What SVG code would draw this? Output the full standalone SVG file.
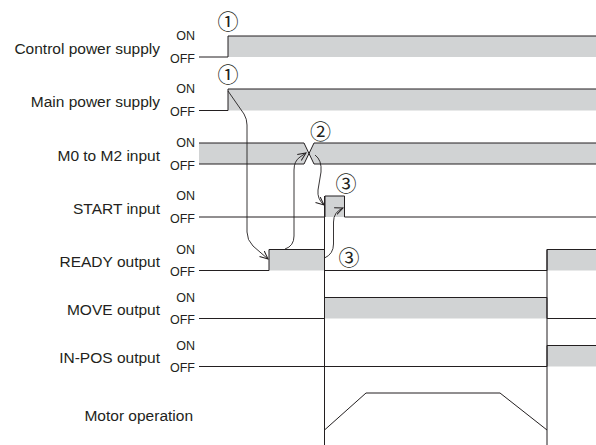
<svg xmlns="http://www.w3.org/2000/svg" width="596" height="445" viewBox="0 0 596 445">
<style>
.lbl{font-family:"Liberation Sans",Arial,sans-serif;font-size:15.5px;fill:#231f20;text-anchor:end}
.st{font-family:"Liberation Sans",Arial,sans-serif;font-size:12.5px;fill:#231f20;text-anchor:end}
.num{font-family:"Noto Sans CJK JP","DejaVu Sans",sans-serif;font-size:21px;fill:#231f20;text-anchor:middle}
.fill{fill:#d1d3d4;stroke:none}
.sig{fill:none;stroke:#231f20;stroke-width:1}
.con{fill:none;stroke:#231f20;stroke-width:0.9;marker-end:url(#ah)}
</style>
<defs>
<marker id="ah" viewBox="0 0 10 10" refX="9" refY="5" markerWidth="9" markerHeight="9" markerUnits="userSpaceOnUse" orient="auto">
<path d="M0,1 L9,5 L0,9" fill="none" stroke="#231f20" stroke-width="1.1"/>
</marker>
</defs>
<rect width="596" height="445" fill="#ffffff"/>

<g id="control-power">
<rect class="fill" x="228" y="36" width="368" height="21"/>
<polyline class="sig" points="199,57 228,57 228,36 596,36"/>
<text class="lbl" x="160" y="54">Control power supply</text>
<text class="st" x="195" y="40">ON</text>
<text class="st" x="195" y="62.5">OFF</text>
<text class="num" x="228" y="29">①</text>
</g>

<g id="main-power">
<rect class="fill" x="228" y="89" width="368" height="21.5"/>
<polyline class="sig" points="199,110.5 228,110.5 228,89 596,89"/>
<text class="lbl" x="160" y="107">Main power supply</text>
<text class="st" x="195" y="93">ON</text>
<text class="st" x="195" y="116">OFF</text>
<text class="num" x="228" y="81.5">①</text>
</g>

<g id="m0-m2-input">
<polygon class="fill" points="199,143 304,143 309,153.5 304,164 199,164"/>
<polygon class="fill" points="314,143 596,143 596,164 314,164 309,153.5"/>
<polyline class="sig" points="199,143 304,143 314,164 596,164"/>
<polyline class="sig" points="199,164 304,164 314,143 596,143"/>
<text class="lbl" x="160" y="160.5">M0 to M2 input</text>
<text class="st" x="195" y="147">ON</text>
<text class="st" x="195" y="169.5">OFF</text>
<text class="num" x="320.5" y="139">②</text>
</g>

<g id="start-input">
<rect class="fill" x="325" y="196" width="19.5" height="21"/>
<polyline class="sig" points="199,217 325,217 325,196 344.5,196 344.5,217 596,217"/>
<text class="lbl" x="160" y="213.5">START input</text>
<text class="st" x="195" y="200">ON</text>
<text class="st" x="195" y="222.5">OFF</text>
<text class="num" x="346" y="190.5">③</text>
</g>

<g id="ready-output">
<rect class="fill" x="269" y="249.5" width="55.5" height="21"/>
<rect class="fill" x="547" y="249.5" width="49" height="21"/>
<polyline class="sig" points="199,270.5 269,270.5 269,249.5 324.5,249.5 324.5,270.5 547,270.5 547,249.5 596,249.5"/>
<text class="lbl" x="160" y="267">READY output</text>
<text class="st" x="195" y="253.5">ON</text>
<text class="st" x="195" y="276">OFF</text>
<text class="num" x="349" y="265">③</text>
</g>

<g id="move-output">
<rect class="fill" x="324.5" y="297.5" width="222.5" height="21"/>
<polyline class="sig" points="199,318.5 324.5,318.5 324.5,297.5 547,297.5 547,318.5 596,318.5"/>
<text class="lbl" x="160" y="315">MOVE output</text>
<text class="st" x="195" y="301.5">ON</text>
<text class="st" x="195" y="324">OFF</text>
</g>

<g id="in-pos-output">
<rect class="fill" x="547" y="345.5" width="49" height="21"/>
<polyline class="sig" points="199,366.5 547,366.5 547,345.5 596,345.5"/>
<text class="lbl" x="160" y="363">IN-POS output</text>
<text class="st" x="195" y="349.5">ON</text>
<text class="st" x="195" y="372">OFF</text>
</g>

<g id="motor-operation">
<polyline class="sig" stroke-width="0.8" points="324.5,430 366,393 500,393 547,430"/>
<text class="lbl" x="193" y="421">Motor operation</text>
</g>

<g id="guides">
<line class="sig" x1="324.5" y1="196" x2="324.5" y2="445"/>
<line class="sig" x1="547" y1="249.5" x2="547" y2="445"/>
</g>

<g id="connectors">
<path class="con" d="M228,91 L244,114 Q247,119 247,125 L247,232 Q247,240 253,246 L268,259"/>
<path class="con" d="M285,249 Q294,246 294,236 L294,170 Q294,161 300,157 L306,153"/>
<path class="con" d="M315,155 Q322,160 321,172 L318,190 Q317,199 324,205"/>
<path class="con" d="M324.5,258 Q333.5,254 333.5,244 L333.5,222 Q333.5,212 343,208"/>
</g>
</svg>
